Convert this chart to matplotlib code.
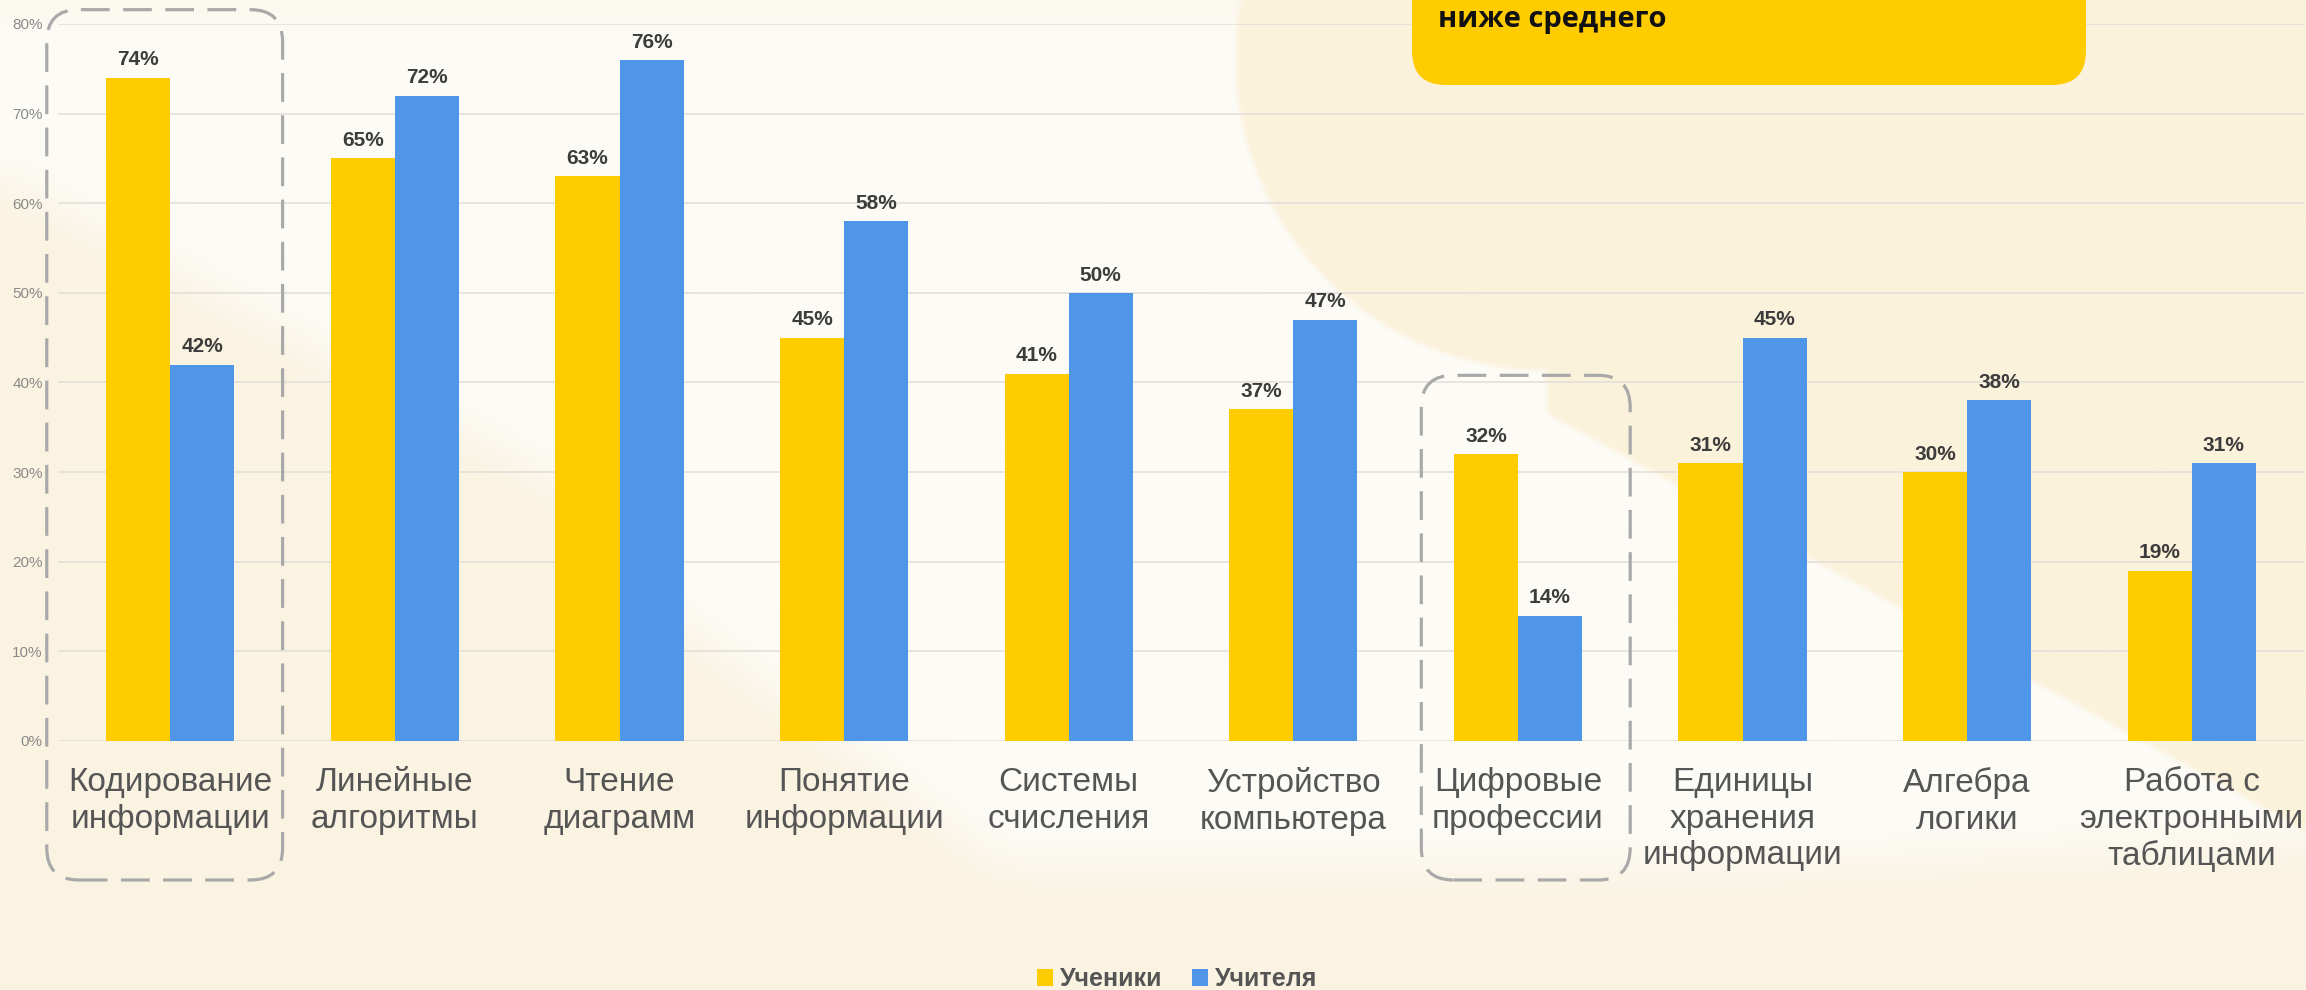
import matplotlib
matplotlib.use("Agg")
import matplotlib.pyplot as plt
from matplotlib.patches import FancyBboxPatch
from matplotlib.path import Path
from matplotlib.transforms import IdentityTransform
import numpy as np

# --- data ---
categories = [
    "Кодирование\nинформации",
    "Линейные\nалгоритмы",
    "Чтение\nдиаграмм",
    "Понятие\nинформации",
    "Системы\nсчисления",
    "Устройство\nкомпьютера",
    "Цифровые\nпрофессии",
    "Единицы\nхранения\nинформации",
    "Алгебра\nлогики",
    "Работа с\nэлектронными\nтаблицами",
]
students = [74, 65, 63, 45, 41, 37, 32, 31, 30, 19]
teachers = [42, 72, 76, 58, 50, 47, 14, 45, 38, 31]
series_names = ["Ученики", "Учителя"]
y_ticks = [0, 10, 20, 30, 40, 50, 60, 70, 80]
callout_text = "ниже среднего"

YELLOW = "#FFCC00"
BLUE = "#4F95E8"
W, H = 2306, 990

plt.rcParams['font.family'] = ['Liberation Sans', 'DejaVu Sans']

fig = plt.figure(figsize=(W / 100, H / 100), dpi=100)
fig.patch.set_facecolor("#FAF3E3")


def px(x, y_top):
    # pixel coords measured from the top-left corner -> display coords
    return (x, H - y_top)


# --- soft background (pale shapes with blurred edges) ---
yy, xx = np.mgrid[0:H, 0:W]
pts = np.column_stack([xx.ravel(), yy.ravel()])
white_poly = Path([(0, 0), (2306, 0), (2306, 840), (1800, 865), (1000, 865),
                   (650, 600), (580, 495), (0, 175)])
white = white_poly.contains_points(pts).reshape(H, W).astype(float)
pale = ((xx - 1547) ** 2 + (yy - 58) ** 2 < 312 ** 2) | \
       ((xx >= 1547) & (yy < 339 + (xx - 1412) * 0.55))
pale = pale.astype(float)


def blur(a, r):
    for axis in (0, 1):
        pad = [(r + 1, r) if i == axis else (0, 0) for i in range(2)]
        c = np.cumsum(np.pad(a, pad, mode="edge"), axis=axis)
        if axis == 0:
            a = (c[2 * r + 1:] - c[:-2 * r - 1]) / (2 * r + 1)
        else:
            a = (c[:, 2 * r + 1:] - c[:, :-2 * r - 1]) / (2 * r + 1)
    return a


white = blur(blur(white, 25), 25)
pale = blur(pale, 3)
base = np.array([250, 243, 226], float)
c_white = np.array([253, 251, 246], float)
c_pale = np.array([251, 242, 219], float)
img = base * (1 - white[..., None]) + c_white * white[..., None]
img = img * (1 - pale[..., None]) + c_pale * pale[..., None]
fig.figimage(img.astype(np.uint8), xo=0, yo=0, origin="upper", zorder=-10)

# --- axes ---
ax = fig.add_axes([58 / W, (H - 741) / H, 2246 / W, 717 / H])
ax.set_facecolor("none")
x = np.arange(len(categories))
bw = 0.285
b1 = ax.bar(x - bw / 2, students, bw, color=YELLOW, label=series_names[0], zorder=3)
b2 = ax.bar(x + bw / 2, teachers, bw, color=BLUE, label=series_names[1], zorder=3)

ax.set_xlim(-0.5, len(categories) - 0.5)
ax.set_ylim(0, 80)
ax.set_yticks(y_ticks)
ax.set_yticklabels([f"{v}%" for v in y_ticks], fontsize=11, color="#8A8A8A")
ax.set_xticks(x)
ax.set_xticklabels(categories, fontsize=24, color="#555555", linespacing=1.22,
                   va="top")
ax.tick_params(axis="y", length=0, pad=11)
ax.tick_params(axis="x", length=0, pad=19)
ax.grid(axis="y", color="#E3E0DA", lw=1.2, zorder=0)
for s in ax.spines.values():
    s.set_visible(False)

for bars, vals in ((b1, students), (b2, teachers)):
    for r, v in zip(bars, vals):
        ax.annotate(f"{v}%", (r.get_x() + r.get_width() / 2, v),
                    xytext=(0, 6), textcoords="offset points",
                    ha="center", va="bottom", fontsize=15, fontweight="bold",
                    color="#3C3C3C")

# --- dashed highlight boxes around two categories ---
highlight = [(0, -0.55, 0.50, 81.6), (6, -0.43, 0.50, 40.8)]
for i, dl, dr, top in highlight:
    (x0, y1) = ax.transData.transform((i + dl, top))
    (x1, _) = ax.transData.transform((i + dr, 0))
    y0 = H - 880
    box = FancyBboxPatch((x0, y0), x1 - x0, y1 - y0,
                         boxstyle="round,pad=0,rounding_size=32",
                         fc="none", ec="#A9A9A9", lw=2.3,
                         linestyle=(0, (9, 4.2)),
                         transform=IdentityTransform(), zorder=5)
    fig.patches.append(box)

# --- callout box at the top ---
cx0, cx1 = 1412, 2086
call = FancyBboxPatch(px(cx0, 85), cx1 - cx0, 200,
                      boxstyle="round,pad=0,rounding_size=34",
                      fc=YELLOW, ec="none", transform=IdentityTransform(), zorder=2)
fig.patches.append(call)
fig.text(1438 / W, 1 - 20 / H, callout_text, fontsize=21, fontweight="bold",
         family=["Open Sans", "DejaVu Sans"], color="#111111", va="center", ha="left")

# --- legend ---
fig.legend(handles=[b1, b2], loc="center", bbox_to_anchor=(1177 / W, 11 / H),
           ncol=2, frameon=False,
           prop={"weight": "bold", "size": 18},
           handlelength=0.65, handleheight=0.65, handletextpad=0.25,
           columnspacing=1.2, labelcolor="#555555")

fig.savefig("out.png", dpi=100, facecolor=fig.get_facecolor())
